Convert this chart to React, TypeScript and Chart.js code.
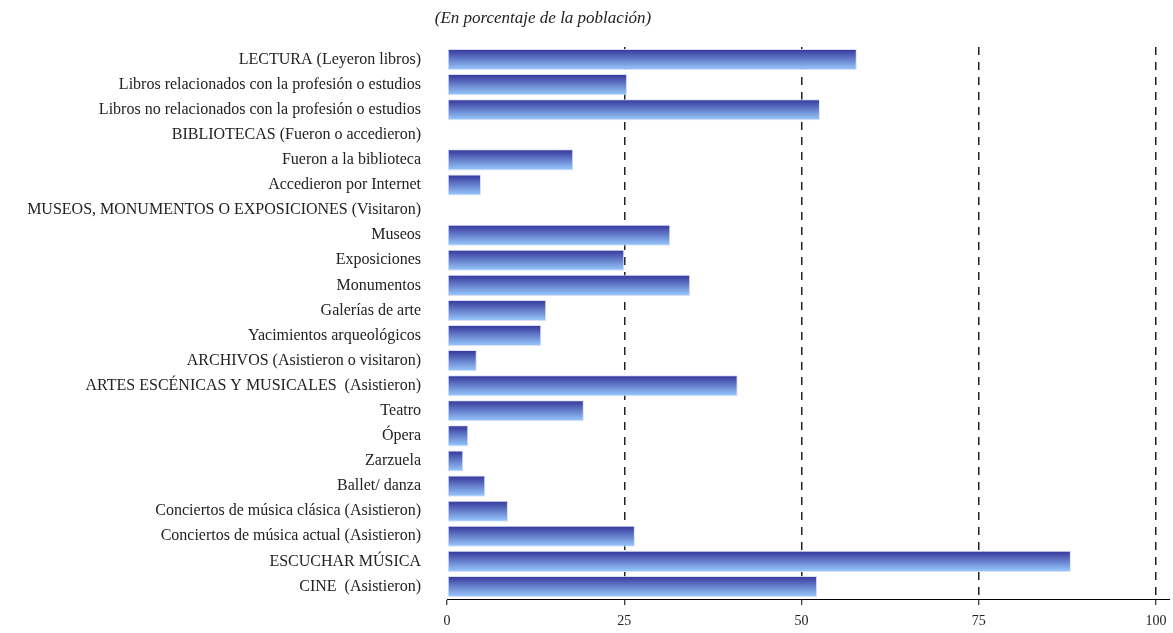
import React, { useEffect, useRef } from "react";
import { Chart, registerables } from "chart.js";

Chart.register(...registerables);

const categories: string[] = [
  "LECTURA (Leyeron libros)",
  "Libros relacionados con la profesión o estudios",
  "Libros no relacionados con la profesión o estudios",
  "BIBLIOTECAS (Fueron o accedieron)",
  "Fueron a la biblioteca",
  "Accedieron por Internet",
  "MUSEOS, MONUMENTOS O EXPOSICIONES (Visitaron)",
  "Museos",
  "Exposiciones",
  "Monumentos",
  "Galerías de arte",
  "Yacimientos arqueológicos",
  "ARCHIVOS (Asistieron o visitaron)",
  "ARTES ESCÉNICAS Y MUSICALES  (Asistieron)",
  "Teatro",
  "Ópera",
  "Zarzuela",
  "Ballet/ danza",
  "Conciertos de música clásica (Asistieron)",
  "Conciertos de música actual (Asistieron)",
  "ESCUCHAR MÚSICA",
  "CINE  (Asistieron)",
];

const values: (number | null)[] = [
  57.8, 25.4, 52.6, null, 17.8, 4.8, null, 31.5, 25.0, 34.3, 14.0, 13.3, 4.2,
  41.0, 19.3, 3.0, 2.3, 5.4, 8.6, 26.5, 88.0, 52.2,
];

const xTicks: number[] = [0, 25, 50, 75, 100];
const titleText = "(En porcentaje de la población)";

const FONT = "'Liberation Serif', 'DejaVu Serif', serif";
const BAR_PCT = 0.84;

export default function App() {
  const ref = useRef<HTMLCanvasElement | null>(null);

  useEffect(() => {
    if (!ref.current) return;
    const titlePlugin = {
      id: "titlePlugin",
      afterDraw(chart: any) {
        const ctx = chart.ctx;
        ctx.save();
        ctx.font = `italic 17px ${FONT}`;
        ctx.fillStyle = "#222";
        ctx.textAlign = "center";
        ctx.textBaseline = "alphabetic";
        ctx.fillText(titleText, 543, 23);
        const a = chart.chartArea;
        ctx.strokeStyle = "#000";
        ctx.lineWidth = 1;
        ctx.beginPath();
        ctx.moveTo(a.right, Math.round(a.bottom) + 0.5);
        ctx.lineTo(a.right + 14, Math.round(a.bottom) + 0.5);
        ctx.stroke();
        ctx.restore();
      },
    };

    const chart = new Chart(ref.current, {
      type: "bar",
      data: {
        labels: categories,
        datasets: [
          {
            data: values as any,
            backgroundColor: (c: any) => {
              const ys = c.chart.scales?.y;
              if (!ys || c.dataIndex === undefined || !isFinite(ys.top)) return "#6680cc";
              const cat = (ys.bottom - ys.top) / categories.length;
              const t = cat * BAR_PCT;
              const center = ys.getPixelForValue(c.dataIndex);
              const g = c.chart.ctx.createLinearGradient(0, center - t / 2, 0, center + t / 2);
              g.addColorStop(0, "#333399");
              g.addColorStop(0.5, "#6680cc");
              g.addColorStop(1, "#99ccff");
              return g;
            },
            borderColor: "rgba(215,220,245,0.9)",
            borderWidth: 1,
            borderSkipped: false,
            categoryPercentage: 1,
            barPercentage: BAR_PCT,
          },
        ],
      },
      options: {
        indexAxis: "y",
        animation: false,
        responsive: false,
        maintainAspectRatio: false,
        devicePixelRatio: 1,
        layout: { padding: { top: 47, right: 17, left: 0, bottom: 0 } },
        plugins: {
          legend: { display: false },
          tooltip: { enabled: false },
          title: { display: false },
        },
        scales: {
          x: {
            type: "linear",
            position: "bottom",
            min: 0,
            max: 100,
            afterBuildTicks: (s: any) => {
              s.ticks = xTicks.map((v) => ({ value: v }));
            },
            afterFit: (s: any) => {
              s.height = 34;
              s.paddingRight = 0;
              s.paddingLeft = 0;
            },
            ticks: {
              font: { family: FONT, size: 14 },
              color: "#222",
              padding: 8,
              maxRotation: 0,
            },
            grid: {
              color: (c: any) => (c.tick && c.tick.value === 0 ? "rgba(0,0,0,0)" : "#222"),
              lineWidth: 1.5,
              tickColor: "#000",
              tickWidth: 1,
              tickLength: 6,
              tickBorderDash: [],
              drawTicks: true,
            } as any,
            border: { display: true, color: "#000", width: 1, dash: [8, 7] } as any,
          },
          y: {
            type: "category",
            afterFit: (s: any) => {
              s.width = 447;
            },
            ticks: {
              font: { family: FONT, size: 16 },
              color: "#222",
              padding: 18,
              autoSkip: false,
            },
            grid: { display: false },
            border: { display: false },
          },
        },
      },
      plugins: [titlePlugin],
    });
    return () => chart.destroy();
  }, []);

  return (
    <div style={{ position: "absolute", left: 0, top: 0, width: 1173, height: 633, background: "#fff" }}>
      <canvas ref={ref} width={1173} height={633} style={{ width: 1173, height: 633 }} />
    </div>
  );
}
